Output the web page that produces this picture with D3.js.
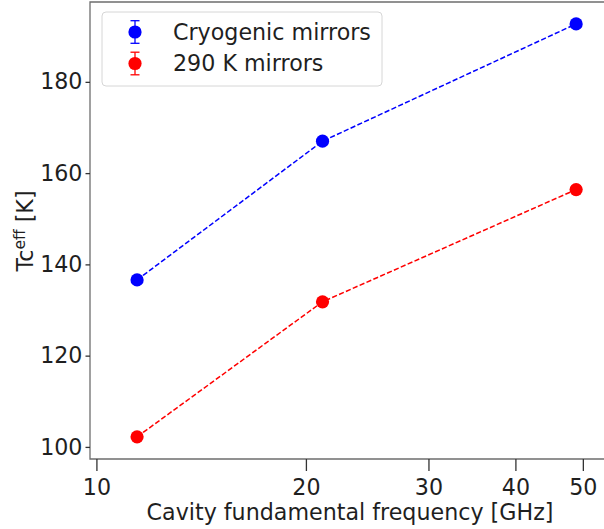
<!DOCTYPE html>
<html>
<head>
<meta charset="utf-8">
<script src="https://cdn.jsdelivr.net/npm/d3@7"></script>
<style>
  html, body { margin: 0; padding: 0; background: #fff; overflow: hidden; }
  svg { display: block; font-family: "DejaVu Sans", sans-serif; }
</style>
</head>
<body>
<svg id="chart" width="604" height="529"></svg>
<script>
// Cavity fundamental frequencies (GHz)
const frequencies = [11.44, 21.13, 48.9];
// Effective temperature per mirror configuration (K)
const cryoTemps = [136.6, 167.0, 192.7];
const warmTemps = [102.2, 131.8, 156.4];
// Uncertainties (K)
const cryoErr = [0.4, 0.4, 0.4];
const warmErr = [0.4, 0.4, 0.4];
// Axis ticks
const xTicks = [10, 20, 30, 40, 50];
const yTicks = [100, 120, 140, 160, 180];
const seriesNames = ["Cryogenic mirrors", "290 K mirrors"];

const series = [
  { name: seriesNames[0], color: "#0000ff", y: cryoTemps, err: cryoErr },
  { name: seriesNames[1], color: "#ff0000", y: warmTemps, err: warmErr }
];

const svg = d3.select("#chart");
// The axes box runs slightly past the right edge of the canvas
const plot = { left: 90, right: 610, top: 2, bottom: 459 };
const textColor = "#1f1f1f";
const fontSize = 22.2;

const x = d3.scaleLog().domain([9.79, 54.7]).range([plot.left, plot.right]);
const y = d3.scaleLinear().domain([97.35, 197.5]).range([plot.bottom, plot.top]);

// Frame (left, top, bottom spines)
svg.append("path")
  .attr("d", `M${plot.right},${plot.top}H${plot.left}V${plot.bottom}H${plot.right}`)
  .attr("fill", "none").attr("stroke", "#6e6e6e").attr("stroke-width", 1.3);

// X axis
const xAxis = svg.append("g")
  .attr("transform", `translate(0,${plot.bottom})`)
  .call(d3.axisBottom(x).tickValues(xTicks).tickFormat(d3.format("d")).tickSize(12).tickPadding(8));
xAxis.select(".domain").remove();
xAxis.selectAll("line").attr("stroke", "#333").attr("stroke-width", 1.3);
xAxis.selectAll("text").attr("fill", textColor).attr("font-size", fontSize)
  .attr("font-family", "DejaVu Sans");

// Y axis
const yAxis = svg.append("g")
  .attr("transform", `translate(${plot.left},0)`)
  .call(d3.axisLeft(y).tickValues(yTicks).tickFormat(d3.format("d")).tickSize(4.5).tickPadding(3));
yAxis.select(".domain").remove();
yAxis.selectAll("line").attr("stroke", "#333").attr("stroke-width", 1.3);
yAxis.selectAll("text").attr("fill", textColor).attr("font-size", fontSize)
  .attr("font-family", "DejaVu Sans");

// Axis titles
svg.append("text")
  .attr("x", 350).attr("y", 520)
  .attr("text-anchor", "middle")
  .attr("fill", textColor).attr("font-size", fontSize)
  .text("Cavity fundamental frequency [GHz]");

const yLabel = svg.append("text")
  .attr("transform", "translate(33,231) rotate(-90)")
  .attr("text-anchor", "middle")
  .attr("fill", textColor).attr("font-size", fontSize);
yLabel.append("tspan").text("Tc");
yLabel.append("tspan").attr("dy", -8.5).attr("font-size", 15.5).text("eff");
yLabel.append("tspan").attr("dy", 8.5).text(" [K]");

// Series: dashed line, error bars, markers
const line = d3.line().x((d) => x(d[0])).y((d) => y(d[1]));
const capHalf = 4.5;
const markerR = 6.6;

series.forEach((s) => {
  const pts = frequencies.map((f, i) => [f, s.y[i], s.err[i]]);
  const g = svg.append("g");
  g.append("path")
    .attr("d", line(pts))
    .attr("fill", "none")
    .attr("stroke", s.color)
    .attr("stroke-width", 1.5)
    .attr("stroke-dasharray", "5.2,2.3");
  pts.forEach(([f, v, e]) => {
    const cx = x(f);
    g.append("line").attr("x1", cx).attr("x2", cx)
      .attr("y1", y(v - e)).attr("y2", y(v + e))
      .attr("stroke", s.color).attr("stroke-width", 1.3);
    [v - e, v + e].forEach((yy) => {
      g.append("line").attr("x1", cx - capHalf).attr("x2", cx + capHalf)
        .attr("y1", y(yy)).attr("y2", y(yy))
        .attr("stroke", s.color).attr("stroke-width", 1.3);
    });
    g.append("circle").attr("cx", cx).attr("cy", y(v)).attr("r", markerR).attr("fill", s.color);
  });
});

// Legend
const legend = svg.append("g");
legend.append("rect")
  .attr("x", 102).attr("y", 12).attr("width", 280).attr("height", 74).attr("rx", 4)
  .attr("fill", "#fff").attr("fill-opacity", 0.8)
  .attr("stroke", "#d6d6d6").attr("stroke-width", 1);

series.forEach((s, i) => {
  const ly = 32 + i * 31.5;
  const lx = 135;
  legend.append("line").attr("x1", lx).attr("x2", lx).attr("y1", ly - 11.3).attr("y2", ly + 11.3)
    .attr("stroke", s.color).attr("stroke-width", 1.3);
  [ly - 11.3, ly + 11.3].forEach((yy) => {
    legend.append("line").attr("x1", lx - capHalf).attr("x2", lx + capHalf)
      .attr("y1", yy).attr("y2", yy).attr("stroke", s.color).attr("stroke-width", 1.3);
  });
  legend.append("circle").attr("cx", lx).attr("cy", ly).attr("r", markerR).attr("fill", s.color);
  legend.append("text")
    .attr("x", 173).attr("y", ly).attr("dy", "0.36em")
    .attr("fill", textColor).attr("font-size", fontSize)
    .text(s.name);
});
</script>
</body>
</html>
